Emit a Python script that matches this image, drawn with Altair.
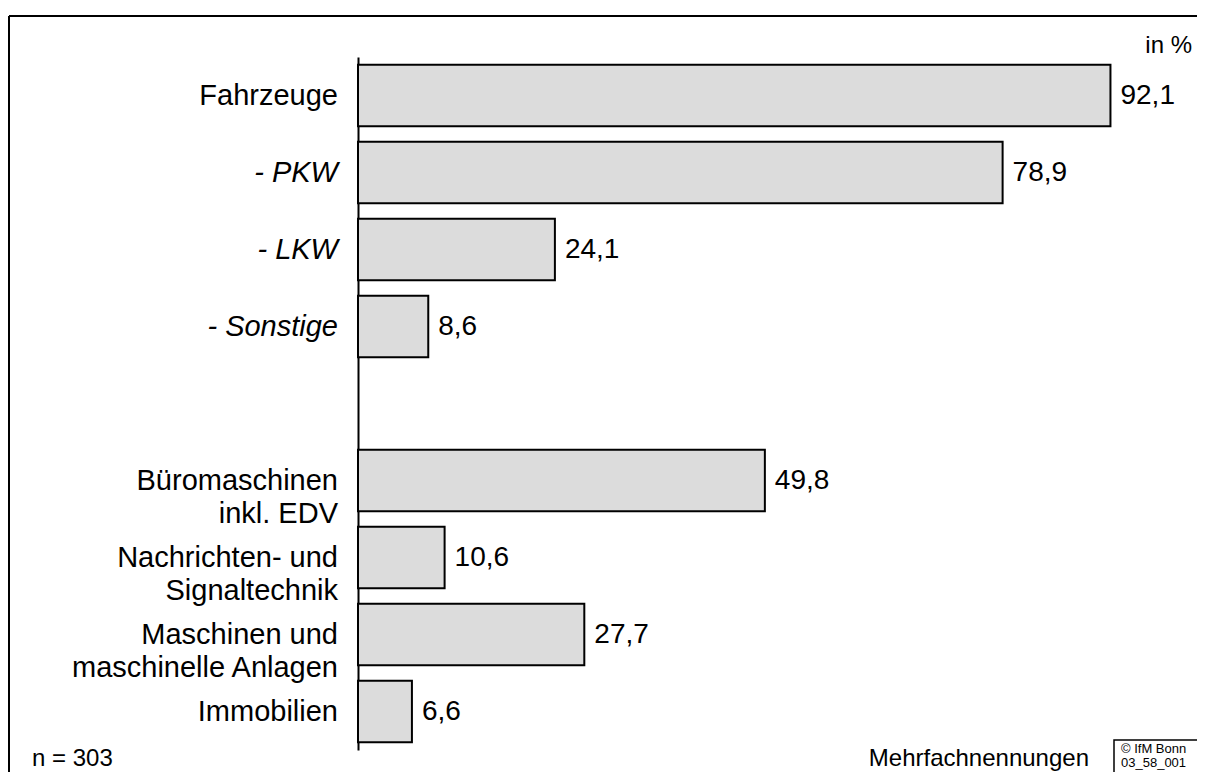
import altair as alt
import pandas as pd

# ---- data ----
categories = [
    "Fahrzeuge",
    "- PKW",
    "- LKW",
    "- Sonstige",
    "Büromaschinen\ninkl. EDV",
    "Nachrichten- und\nSignaltechnik",
    "Maschinen und\nmaschinelle Anlagen",
    "Immobilien",
]
values = [92.1, 78.9, 24.1, 8.6, 49.8, 10.6, 27.7, 6.6]
italic = [False, True, True, True, False, False, False, False]
spacer = " "
y_domain = categories[:4] + [spacer] + categories[4:]

note_left = "n = 303"
note_right = "Mehrfachnennungen"
unit_label = "in %"
copyright_lines = ["© IfM Bonn", "03_58_001"]

df = pd.DataFrame({
    "cat": categories,
    "value": values,
    "italic": italic,
    "label": [f"{v:.1f}".replace(".", ",") for v in values],
})

FONT = "Liberation Sans"

y_enc = alt.Y(
    "cat:N",
    scale=alt.Scale(domain=y_domain, paddingInner=0.2, paddingOuter=0.1),
    axis=alt.Axis(labels=False, ticks=False, domain=True, domainColor="black",
                  domainWidth=2, title=None, grid=False),
)
x_enc = alt.X("value:Q", scale=alt.Scale(domain=[0, 100]), axis=None)

base = alt.Chart(df)

bars = base.mark_bar(fill="#dcdcdc", stroke="black", strokeWidth=2).encode(
    x=x_enc, y=y_enc
)

values_text = base.mark_text(
    align="left", baseline="middle", dx=10, fontSize=28, font=FONT, color="black"
).encode(x=x_enc, y=y_enc, text="label:N")

labels_normal = base.transform_filter("!datum.italic").mark_text(
    align="right", baseline="middle", fontSize=29, font=FONT, color="black",
    lineBreak="\n", lineHeight=33,
).encode(x=alt.value(-20), y=y_enc, text="cat:N")

labels_italic = base.transform_filter("datum.italic").mark_text(
    align="right", baseline="middle", fontSize=29, font=FONT, color="black",
    fontStyle="italic",
).encode(x=alt.value(-20), y=y_enc, text="cat:N")

one = pd.DataFrame({"k": [0]})

frame_top = alt.Chart(one).mark_rule(color="black", strokeWidth=2).encode(
    x=alt.value(-349), x2=alt.value(900), y=alt.value(-41)
)
frame_left = alt.Chart(one).mark_rule(color="black", strokeWidth=2).encode(
    x=alt.value(-349), y=alt.value(-41), y2=alt.value(800)
)

unit_text = alt.Chart(pd.DataFrame({"t": [unit_label]})).mark_text(
    align="right", baseline="alphabetic", fontSize=24, font=FONT, color="black"
).encode(x=alt.value(834), y=alt.value(-4), text="t:N")

n_text = alt.Chart(pd.DataFrame({"t": [note_left]})).mark_text(
    align="left", baseline="alphabetic", fontSize=24, font=FONT, color="black"
).encode(x=alt.value(-326), y=alt.value(709), text="t:N")

multi_text = alt.Chart(pd.DataFrame({"t": [note_right]})).mark_text(
    align="right", baseline="alphabetic", fontSize=24, font=FONT, color="black"
).encode(x=alt.value(731), y=alt.value(709), text="t:N")

copy_box = alt.Chart(one).mark_rect(fill="white", stroke="black", strokeWidth=1.5).encode(
    x=alt.value(756), x2=alt.value(900), y=alt.value(683), y2=alt.value(800)
)
copy_text1 = alt.Chart(pd.DataFrame({"t": [copyright_lines[0]]})).mark_text(
    align="left", baseline="alphabetic", fontSize=13, font=FONT, color="black"
).encode(x=alt.value(763), y=alt.value(696), text="t:N")
copy_text2 = alt.Chart(pd.DataFrame({"t": [copyright_lines[1]]})).mark_text(
    align="left", baseline="alphabetic", fontSize=13, font=FONT, color="black"
).encode(x=alt.value(763), y=alt.value(710), text="t:N")

chart = alt.layer(
    frame_top, frame_left, bars, values_text, labels_normal, labels_italic,
    unit_text, n_text, multi_text, copy_box, copy_text1, copy_text2,
).properties(
    width=817,
    height=693,
    autosize=alt.AutoSizeParams(type="none"),
    padding={"left": 350, "top": 49, "right": 22, "bottom": 22},
    background="white",
).configure_view(stroke=None)

chart.save("out.html", embed_options={"renderer": "svg", "actions": False})
